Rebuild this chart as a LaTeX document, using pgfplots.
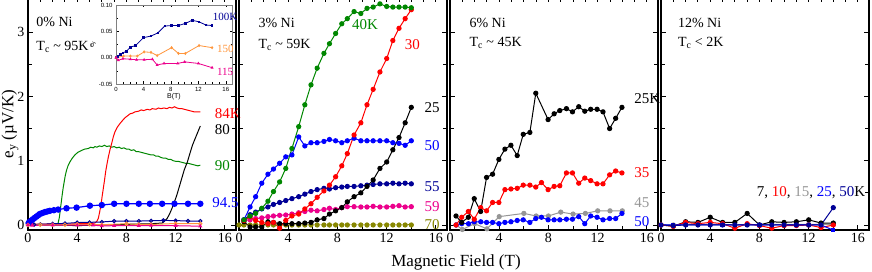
\documentclass[border=0pt]{standalone}
\usepackage{fontspec}
\setmainfont{Liberation Serif}
\newfontfamily\insetfont{Liberation Sans}
\usepackage{pgfplots}
\pgfplotsset{compat=1.18}
\definecolor{mygreen}{RGB}{0,135,0}
\definecolor{navy}{RGB}{0,0,150}
\definecolor{olv}{RGB}{135,135,0}
\definecolor{orng}{RGB}{255,150,60}
\definecolor{gry}{RGB}{150,150,150}
\newcommand\lf{\fontsize{15}{17}\selectfont}
\newcommand\pf{\fontsize{14}{16}\selectfont}
\pgfplotsset{
  panel/.style={scale only axis, width=208pt, height=233pt,
    xmin=0, xmax=16.9, ymin=-0.078, ymax=3.547,
    xtick={0,4,8,12,16}, minor xtick={2,6,10,14}, xtick pos=left,
    ytick={0,1,2,3}, minor ytick={0.5,1.5,2.5},
    tick align=inside, major tick length=5pt, minor tick length=4pt,
    axis line style={line width=1.6pt},
    every tick/.style={black, line width=0.9pt},
    tick label style={font=\fontsize{14}{16}\selectfont},
    /pgf/number format/assume math mode=true, clip=false},
  toptick/.style={scale only axis, width=208pt, height=233pt,
    xmin=0, xmax=16.9, ymin=-0.078, ymax=3.547,
    axis x line*=top, axis y line=none,
    xtick={0,1,...,16}, xticklabels={},
    tick align=inside, major tick length=5pt,
    axis line style={line width=1.6pt},
    every tick/.style={black, line width=0.9pt}},
  ln/.style={line width=1pt},
  mk/.style={line width=1pt, mark=*, mark size=2.1pt},
}
\begin{document}
\begin{tikzpicture}
\useasboundingbox (0pt,0pt) rectangle (872pt,272pt);
% ---------------- Panel 1 ----------------
\begin{axis}[panel, at={(28pt,42pt)}, anchor=south west]
\addplot[ln, mygreen] coordinates {(0,0.01)(0.5,0.0)(1,0.01)(1.5,0.0)(2,0.01)(2.3,0.01)(2.45,0.03)(2.55,0.12)(2.64,0.26)(2.72,0.38)(2.78,0.47)(2.86,0.58)(2.94,0.67)(3.03,0.77)(3.13,0.85)(3.25,0.92)(3.4,0.98)(3.6,1.04)(3.81,1.09)(4.05,1.13)(4.35,1.16)(4.6,1.18)(4.9,1.19)(5.1,1.21)(5.3,1.20)(5.44,1.22)(5.6,1.21)(5.8,1.23)(6.0,1.22)(6.2,1.24)(6.4,1.22)(6.6,1.23)(6.8,1.21)(7.0,1.22)(7.2,1.20)(7.4,1.21)(7.6,1.19)(7.8,1.20)(8.0,1.18)(8.2,1.18)(8.4,1.16)(8.6,1.17)(8.8,1.14)(9.0,1.14)(9.2,1.13)(9.4,1.12)(9.6,1.11)(9.8,1.10)(10,1.09)(10.2,1.09)(10.4,1.07)(10.6,1.07)(10.8,1.05)(11,1.04)(11.2,1.04)(11.4,1.02)(11.6,1.02)(11.8,1.00)(12,0.99)(12.2,0.99)(12.4,0.98)(12.6,0.97)(12.8,0.96)(13,0.96)(13.2,0.95)(13.4,0.94)(13.6,0.93)(13.8,0.92)(14,0.93)};
\addplot[ln, red] coordinates {(0,0.02)(1,0.01)(2,0.02)(3,0.01)(4,0.02)(5,0.02)(5.44,0.03)(5.6,0.06)(5.71,0.1)(5.82,0.2)(5.93,0.31)(6.02,0.44)(6.12,0.57)(6.22,0.7)(6.31,0.83)(6.42,0.95)(6.53,1.06)(6.66,1.17)(6.8,1.27)(6.93,1.37)(7.07,1.45)(7.25,1.52)(7.48,1.58)(7.7,1.63)(7.89,1.67)(8.1,1.70)(8.3,1.73)(8.5,1.74)(8.7,1.76)(8.98,1.77)(9.2,1.79)(9.4,1.78)(9.7,1.80)(9.9,1.79)(10.1,1.81)(10.4,1.80)(10.6,1.82)(10.8,1.81)(11.05,1.82)(11.3,1.81)(11.5,1.83)(11.7,1.82)(11.9,1.84)(12.1,1.82)(12.3,1.81)(12.5,1.81)(12.7,1.80)(12.9,1.79)(13.1,1.78)(13.3,1.77)(13.5,1.76)(13.7,1.76)(13.9,1.76)(14,1.76)};
\addplot[ln, black] coordinates {(0,0.0)(2,0.0)(4,-0.01)(6,0.0)(8,0.01)(10,0.02)(10.9,0.03)(11.1,0.06)(11.3,0.1)(11.5,0.17)(11.7,0.26)(11.9,0.36)(12.1,0.47)(12.3,0.6)(12.5,0.73)(12.7,0.86)(12.95,0.98)(13.15,1.11)(13.36,1.24)(13.55,1.33)(13.7,1.4)(13.85,1.47)(14.0,1.54)};
\addplot[line width=1.2pt, blue, mark=*, mark size=2.6pt] coordinates {(0.05,0.03)(0.14,0.05)(0.27,0.07)(0.4,0.09)(0.54,0.11)(0.68,0.13)(0.82,0.15)(0.95,0.17)(1.15,0.185)(1.36,0.20)(1.56,0.21)(1.77,0.22)(2.1,0.23)(2.45,0.24)(3.13,0.26)(3.95,0.27)(5.03,0.30)(6.0,0.31)(7.0,0.33)(8.0,0.33)(9.0,0.33)(9.9,0.33)(10.9,0.33)(11.9,0.33)(13.0,0.33)(14.0,0.33)};
\addplot[ln, navy, mark=o, mark size=1.6pt] coordinates {(0,0)(0.5,0.005)(1,0.01)(2,0.02)(3,0.024)(4,0.038)(5,0.041)(6,0.047)(7,0.06)(8,0.061)(9,0.061)(10,0.065)(11,0.071)(12,0.068)(13,0.062)(14,0.061)};
\addplot[ln, orng, mark=o, mark size=1.6pt] coordinates {(0,0)(1,0.003)(2,0.003)(3,0.003)(4,0.011)(5,0.01)(6,0.004)(8,0.019)(9,0.008)(10,0.008)(12,0.023)(14,0.019)};
\addplot[ln, magenta, mark=triangle*, mark size=1.4pt] coordinates {(0,0)(0.35,-0.005)(2,-0.003)(4,-0.004)(5.3,-0.003)(6,-0.014)(7,-0.011)(9,-0.011)(10,-0.008)(12,-0.011)(14,-0.019)};
\node[anchor=west, font=\pf] at (axis cs:0.4,3.16) {0\% Ni};
\node[anchor=west, font=\pf] at (axis cs:0.4,2.77) {T\textsubscript{c} \textasciitilde\ 95K};
\node[anchor=west, font=\lf, text=red] at (axis cs:14.9,1.73) {84K};
\node[anchor=west, font=\lf, text=black] at (axis cs:14.9,1.49) {80};
\node[anchor=west, font=\lf, text=mygreen] at (axis cs:14.9,0.93) {90};
\node[anchor=west, font=\lf, text=blue] at (axis cs:14.7,0.34) {94.5};
\end{axis}
\begin{axis}[toptick, at={(28pt,42pt)}, anchor=south west]\end{axis}
% inset
\begin{axis}[at={(116pt,188pt)}, anchor=south west, scale only axis, width=116pt, height=79pt,
  xmin=0, xmax=16.9, ymin=-0.05, ymax=0.10,
  xtick={0,4,8,12,16}, minor xtick={1,2,3,5,6,7,9,10,11,13,14,15},
  ytick={-0.05,0,0.05,0.10}, minor ytick={-0.025,0.025,0.075},
  tick align=inside, major tick length=2.5pt, minor tick length=1.5pt,
  axis line style={line width=0.5pt, gray},
  every tick/.style={black, line width=0.4pt},
  yticklabel style={/pgf/number format/.cd, fixed, fixed zerofill, precision=2},
  tick label style={font=\insetfont\fontsize{6}{7}\selectfont},
  /pgf/number format/assume math mode=true,
  xlabel={B(T)}, ylabel={e\textsubscript{y}},
  label style={font=\insetfont\fontsize{7}{8}\selectfont},
  xlabel style={yshift=5pt}, ylabel style={yshift=-4pt},
  axis background/.style={fill=white}, clip=false]
\addplot[line width=0.8pt, navy, mark=square*, mark size=0.8pt] coordinates {(0,0)(0.25,0.002)(0.6,0.006)(1,0.009)(1.5,0.012)(2.1,0.02)(2.85,0.023)(4,0.038)(5.1,0.041)(6.1,0.047)(7.1,0.06)(8.1,0.061)(9.1,0.061)(10.1,0.065)(11.1,0.071)(12.1,0.068)(13.1,0.062)(14,0.061)};
\addplot[line width=0.8pt, orng, mark=diamond, mark size=1pt] coordinates {(0,0)(1.1,0.003)(2.1,0.003)(3.1,0.003)(4.1,0.011)(5.1,0.01)(6,0.004)(8.1,0.019)(9.1,0.008)(10.1,0.008)(12.1,0.023)(14,0.019)};
\addplot[line width=0.8pt, magenta, mark=triangle*, mark size=1pt] coordinates {(0,0)(0.35,-0.005)(1,-0.002)(2.1,-0.003)(3,-0.004)(4.1,-0.004)(5.3,-0.003)(6,-0.014)(7,-0.011)(9,-0.011)(10,-0.008)(12,-0.011)(14,-0.019)};
\node[anchor=west, font=\fontsize{11}{12}\selectfont, text=navy] at (axis cs:13.6,0.077) {100K};
\node[anchor=west, font=\fontsize{11}{12}\selectfont, text=orng] at (axis cs:14.2,0.017) {150};
\node[anchor=west, font=\fontsize{11}{12}\selectfont, text=magenta] at (axis cs:14.2,-0.027) {115};
\end{axis}
% ---------------- Panel 2 ----------------
\begin{axis}[panel, at={(239pt,42pt)}, anchor=south west, yticklabels={}]
\addplot[mk, olv] coordinates {(0,0)(0.4,0)(0.9,0)(1.35,0)(1.85,0)(2.35,0)(2.8,0)(3.3,0)(3.8,0)(4.3,0)(4.85,0)(5.35,0)(5.85,0)(6.35,0)(6.9,0)(7.35,0)(7.85,0)(8.35,0)(8.8,0)(9.35,0)(9.9,0)(10.4,0)(10.9,0)(11.45,0)(12,0)(12.5,0)(13,0)(13.5,0)(14,0)};
\addplot[mk, magenta] coordinates {(0.4,0.07)(0.9,0.08)(1.35,0.10)(1.85,0.11)(2.35,0.13)(2.8,0.14)(3.3,0.15)(3.8,0.155)(4.3,0.17)(4.85,0.19)(5.35,0.21)(5.85,0.23)(6.35,0.22)(6.9,0.24)(7.35,0.26)(7.85,0.24)(8.35,0.27)(8.8,0.285)(9.35,0.285)(9.9,0.28)(10.4,0.28)(10.9,0.29)(11.45,0.28)(12,0.28)(12.5,0.29)(13,0.30)(13.5,0.28)(14,0.285)};
\addplot[mk, navy] coordinates {(0.4,0.08)(0.9,0.16)(1.35,0.20)(1.85,0.25)(2.35,0.28)(2.8,0.32)(3.3,0.35)(3.8,0.38)(4.3,0.41)(4.85,0.44)(5.35,0.48)(5.85,0.52)(6.35,0.55)(6.9,0.57)(7.35,0.56)(7.85,0.58)(8.35,0.59)(8.8,0.60)(9.35,0.60)(9.9,0.61)(10.4,0.62)(10.9,0.63)(11.45,0.64)(12,0.64)(12.5,0.65)(13,0.64)(13.5,0.65)(14,0.64)};
\addplot[mk, black] coordinates {(0.4,0.05)(0.9,-0.03)(1.35,-0.03)(1.85,-0.03)(2.35,0.05)(2.8,0.04)(3.3,0.02)(3.8,0.02)(4.3,0.02)(4.85,0.02)(5.35,0.03)(5.85,0.04)(6.35,0.08)(6.9,0.10)(7.35,0.17)(7.85,0.22)(8.35,0.27)(8.8,0.36)(9.35,0.44)(9.9,0.50)(10.4,0.60)(10.9,0.70)(11.45,0.88)(12,0.98)(12.5,1.17)(13,1.36)(13.5,1.59)(14,1.83)};
\addplot[mk, blue] coordinates {(0.4,0.08)(0.9,0.28)(1.35,0.44)(1.85,0.65)(2.35,0.79)(2.8,0.87)(3.3,0.96)(3.8,1.06)(4.3,1.09)(4.85,1.37)(5.35,1.23)(5.85,1.28)(6.35,1.28)(6.9,1.30)(7.35,1.33)(7.85,1.31)(8.35,1.28)(8.8,1.31)(9.35,1.35)(9.9,1.31)(10.4,1.31)(10.9,1.31)(11.45,1.31)(12,1.31)(12.5,1.28)(13,1.27)(13.5,1.24)(14,1.31)};
\addplot[mk, red] coordinates {(0.4,0.07)(0.9,0.13)(1.35,0.07)(1.85,0.04)(2.35,0.02)(2.8,0.04)(3.3,-0.05)(3.8,0.07)(4.3,0.14)(4.85,0.17)(5.35,0.25)(5.85,0.33)(6.35,0.43)(6.9,0.53)(7.35,0.62)(7.85,0.75)(8.35,0.92)(8.8,1.11)(9.35,1.40)(9.9,1.59)(10.4,1.87)(10.9,2.11)(11.45,2.38)(12,2.59)(12.5,2.87)(13,3.06)(13.5,3.21)(14,3.35)};
\addplot[mk, mygreen] coordinates {(0.4,0.08)(0.9,0.14)(1.35,0.18)(1.85,0.26)(2.35,0.37)(2.8,0.52)(3.3,0.67)(3.8,0.88)(4.3,1.19)(4.85,1.53)(5.35,1.87)(5.85,2.18)(6.35,2.44)(6.9,2.67)(7.35,2.82)(7.85,2.98)(8.35,3.13)(8.8,3.21)(9.35,3.32)(9.9,3.29)(10.4,3.37)(10.9,3.39)(11.45,3.44)(12,3.40)(12.5,3.39)(13,3.39)(13.5,3.39)(14,3.38)};
\node[anchor=west, font=\pf] at (axis cs:1.3,3.14) {3\% Ni};
\node[anchor=west, font=\pf] at (axis cs:1.3,2.8) {T\textsubscript{c} \textasciitilde\ 59K};
\node[anchor=west, font=\lf, text=mygreen] at (axis cs:8.9,3.11) {40K};
\node[anchor=west, font=\lf, text=red] at (axis cs:13.2,2.8) {30};
\node[anchor=west, font=\lf, text=black] at (axis cs:14.8,1.82) {25};
\node[anchor=west, font=\lf, text=blue] at (axis cs:14.8,1.24) {50};
\node[anchor=west, font=\lf, text=navy] at (axis cs:14.8,0.59) {55};
\node[anchor=west, font=\lf, text=magenta] at (axis cs:14.8,0.28) {59};
\node[anchor=west, font=\lf, text=olv] at (axis cs:14.8,0.0) {70};
\end{axis}
\begin{axis}[toptick, at={(239pt,42pt)}, anchor=south west]\end{axis}
% ---------------- Panel 3 ----------------
\begin{axis}[panel, at={(450pt,42pt)}, anchor=south west, yticklabels={}]
\addplot[mk, gry] coordinates {(0.5,0.0)(1,-0.07)(2,0.02)(3,-0.06)(4,0.13)(6,0.18)(7,0.14)(8,0.14)(9,0.20)(10,0.17)(11,0.18)(12,0.22)(13,0.22)(14,0.22)};
\addplot[mk, blue] coordinates {(0.5,0.0)(0.95,0.02)(1.5,0.02)(1.97,0.05)(2.5,0.05)(2.97,0.04)(3.46,0.04)(3.97,0.02)(4.46,0.04)(4.95,0.05)(5.46,0.07)(5.95,0.08)(6.49,0.04)(6.97,0.10)(7.43,0.12)(7.97,0.08)(8.46,0.08)(8.92,0.08)(9.46,0.09)(9.95,0.09)(10.46,0.13)(10.95,0.02)(11.43,0.14)(11.95,0.12)(12.43,0.08)(12.97,0.10)(13.46,0.10)(13.97,0.18)};
\addplot[mk, red] coordinates {(0.49,0.0)(0.95,0.12)(1.49,0.21)(1.97,0.09)(2.49,0.27)(2.97,0.22)(3.46,0.35)(3.97,0.35)(4.46,0.55)(4.95,0.56)(5.46,0.57)(5.95,0.62)(6.49,0.62)(6.97,0.59)(7.43,0.66)(7.97,0.55)(8.46,0.60)(8.92,0.61)(9.46,0.81)(9.95,0.81)(10.46,0.65)(10.95,0.73)(11.43,0.69)(11.95,0.64)(12.43,0.64)(12.97,0.78)(13.46,0.84)(13.97,0.81)};
\addplot[mk, black] coordinates {(0.49,0.14)(0.95,0.04)(1.49,0.12)(1.97,0.41)(2.49,0.21)(2.97,0.74)(3.46,0.79)(3.97,1.02)(4.46,1.18)(4.95,1.24)(5.46,1.08)(5.95,1.41)(6.49,1.44)(6.97,2.05)(7.97,1.64)(8.46,1.73)(8.92,1.78)(9.46,1.81)(9.95,1.76)(10.46,1.84)(10.95,1.77)(11.43,1.80)(11.95,1.80)(12.43,1.76)(12.97,1.50)(13.46,1.66)(13.97,1.83)};
\node[anchor=west, font=\pf] at (axis cs:1.3,3.14) {6\% Ni};
\node[anchor=west, font=\pf] at (axis cs:1.3,2.83) {T\textsubscript{c} \textasciitilde\ 45K};
\node[anchor=west, font=\lf, text=black] at (axis cs:14.7,1.96) {25K};
\node[anchor=west, font=\lf, text=red] at (axis cs:14.7,0.82) {35};
\node[anchor=west, font=\lf, text=gry] at (axis cs:14.7,0.34) {45};
\node[anchor=west, font=\lf, text=blue] at (axis cs:14.7,0.06) {50};
\end{axis}
\begin{axis}[toptick, at={(450pt,42pt)}, anchor=south west]\end{axis}
% ---------------- Panel 4 ----------------
\begin{axis}[panel, at={(661pt,42pt)}, anchor=south west, yticklabels={}]
\addplot[mk, gry] coordinates {(0,0)(1,0.0)(2,0.01)(3,0.01)(4,0.01)(5,0.01)(6,0.0)(7,0.01)(8,0.0)(9,0.01)(10,0.01)(11,0.01)(12,0.01)(13,0.01)(14,0.01)};
\addplot[mk, black] coordinates {(0,0)(1,-0.02)(2,0.05)(3,0.04)(4,0.12)(5,0.04)(6,0.04)(7,0.18)(8,0.0)(9,0.05)(10,0.04)(11,0.05)(12,0.08)(13,0.03)(14,0.03)};
\addplot[mk, red] coordinates {(0,0)(1,-0.02)(2,0.04)(3,0.02)(4,0.04)(5,0.02)(6,-0.05)(7,0.02)(8,-0.01)(9,-0.05)(10,-0.01)(11,-0.01)(12,0.0)(13,-0.04)(14,0.0)};
\addplot[mk, blue, mark=square*, mark size=1.6pt] coordinates {(0,0)(1,0.0)(2,0.0)(3,0.0)(4,0.0)(5,0.0)(6,0.0)(7,0.0)(8,0.0)(9,0.0)(10,0.0)(11,0.0)(12,0.0)(13,0.0)(14,-0.08)};
\addplot[mk, navy] coordinates {(0,0)(1,-0.01)(2,0.0)(3,0.0)(4,0.0)(5,0.0)(6,0.0)(7,0.0)(8,0.0)(9,0.0)(10,0.0)(11,0.0)(12,0.0)(13,0.0)(14,0.27)};
\node[anchor=west, font=\pf] at (axis cs:1.1,3.14) {12\% Ni};
\node[anchor=west, font=\pf] at (axis cs:1.1,2.83) {T\textsubscript{c} < 2K};
\node[anchor=west, font=\lf] at (axis cs:7.5,0.5) {7, \textcolor{red}{10}, \textcolor{gry}{15}, \textcolor{blue}{25}, \textcolor{navy}{50}K};
\end{axis}
\begin{axis}[toptick, at={(661pt,42pt)}, anchor=south west]\end{axis}
\node[font=\fontsize{17}{19}\selectfont, anchor=base] at (456pt,5pt) {Magnetic Field (T)};
\node[font=\fontsize{17}{19}\selectfont, rotate=90] at (10pt,148pt) {e\textsubscript{y} (µV/K)};
\end{tikzpicture}
\end{document}
